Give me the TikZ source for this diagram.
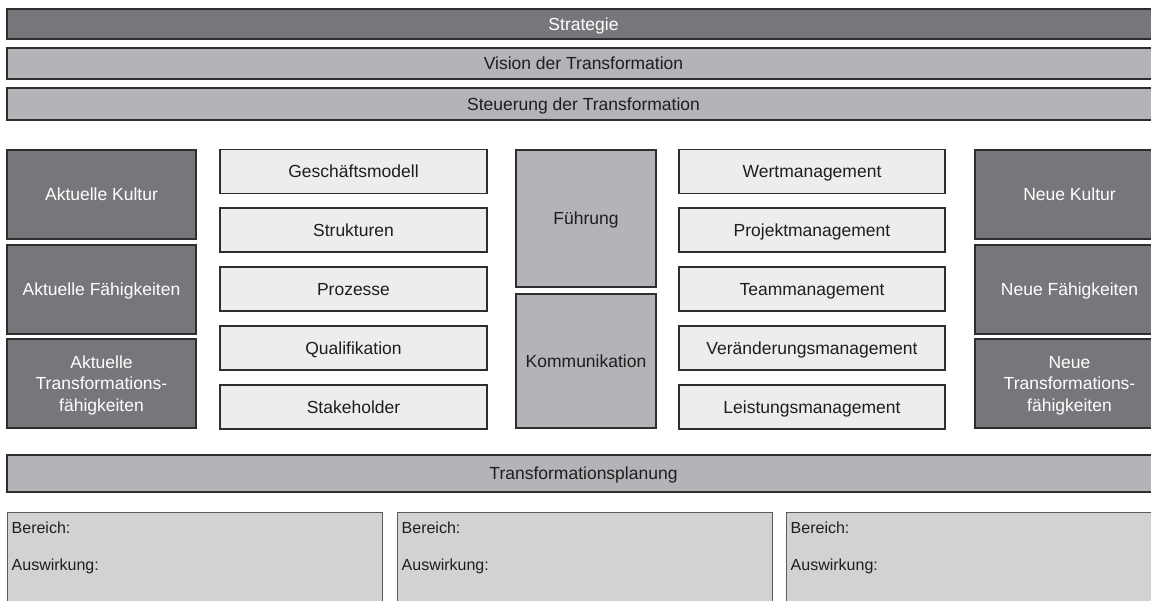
\documentclass[tikz,border=0pt]{standalone}
\usepackage{fontspec}
\setmainfont{Liberation Sans}
\begin{document}
\begin{tikzpicture}[x=1pt,y=-1pt,
  every node/.style={font=\fontsize{17.5}{21.5}\selectfont, align=center, inner sep=0pt},
  oneline/.style={text height=12.5pt, text depth=0pt},
  threeline/.style={text depth=0pt},
  box/.style={draw=edge, line width=1.6pt, rectangle},
  darkbox/.style={box, fill=darkfill, text=white},
  midbox/.style={box, fill=midfill, text=txt},
  lightbox/.style={box, fill=lightfill, text=txt, oneline},
  areabox/.style={draw=areaedge, line width=1pt, fill=areafill, rectangle, minimum width=375pt, minimum height=108pt},
  arealabel/.style={anchor=west, text=txt, font=\fontsize{16}{19}\selectfont},
  bar/.style={minimum width=1153pt, oneline},
  side/.style={minimum width=189pt, minimum height=89pt},
  item/.style={minimum width=267pt, minimum height=44pt}
]
\definecolor{edge}{HTML}{2E2E30}
\definecolor{areaedge}{HTML}{5A5A5C}
\definecolor{darkfill}{HTML}{76777A}
\definecolor{midfill}{HTML}{B3B4B7}
\definecolor{lightfill}{HTML}{EDEDEE}
\definecolor{areafill}{HTML}{D1D2D4}
\definecolor{txt}{HTML}{1E1E1E}
\clip (0,0) rectangle (1151,600);
\fill[white] (0,0) rectangle (1151,600);

% top bars
\node[darkbox, bar, minimum height=30pt] (strat) at (583.5,24) {Strategie};
\node[midbox, bar, minimum height=31pt] (vision) at (583.5,63.5) {Vision der Transformation};
\node[midbox, bar, minimum height=32pt] (steu) at (583.5,104) {Steuerung der Transformation};

% current state
\node[darkbox, side, oneline] (akult) at (101.5,194.5) {Aktuelle Kultur};
\node[darkbox, side, oneline] (afaeh) at (101.5,289.5) {Aktuelle Fähigkeiten};
\node[darkbox, side, threeline] (atrans) at (101.5,383.5) {Aktuelle\\Transformations-\\fähigkeiten};

% organisational elements
\node[lightbox, item] (gm) at (353.5,171.5) {Geschäftsmodell};
\node[lightbox, item] (st) at (353.5,230) {Strukturen};
\node[lightbox, item] (pr) at (353.5,289) {Prozesse};
\node[lightbox, item] (qu) at (353.5,348) {Qualifikation};
\node[lightbox, item] (sh) at (353.5,407) {Stakeholder};

% leadership and communication
\node[midbox, oneline, minimum width=140pt, minimum height=137pt] (fu) at (586,218.5) {Führung};
\node[midbox, oneline, minimum width=140pt, minimum height=134pt] (ko) at (586,361) {Kommunikation};

% management disciplines
\node[lightbox, item, minimum width=266pt] (wm) at (812,171.5) {Wertmanagement};
\node[lightbox, item, minimum width=266pt] (pm) at (812,230) {Projektmanagement};
\node[lightbox, item, minimum width=266pt] (tm) at (812,289) {Teammanagement};
\node[lightbox, item, minimum width=266pt] (vm) at (812,348) {Veränderungsmanagement};
\node[lightbox, item, minimum width=266pt] (lm) at (812,407) {Leistungsmanagement};

% target state
\node[darkbox, side, oneline] (nkult) at (1069.5,194.5) {Neue Kultur};
\node[darkbox, side, oneline] (nfaeh) at (1069.5,289.5) {Neue Fähigkeiten};
\node[darkbox, side, threeline] (ntrans) at (1069.5,383.5) {Neue\\Transformations-\\fähigkeiten};

% planning
\node[midbox, bar, minimum height=37pt] (plan) at (583.5,473.5) {Transformationsplanung};

% planning areas
\node[areabox] (b1) at (194.5,566) {};
\node[areabox] (b2) at (584.5,566) {};
\node[areabox, minimum width=374pt] (b3) at (973,566) {};
\foreach \b in {b1,b2,b3} {
  \node[arealabel] (\b r) at ([xshift=5pt,yshift=-16pt]\b.north west) {Bereich:};
  \node[arealabel] (\b a) at ([xshift=5pt,yshift=-55pt]\b.north west) {Auswirkung:};
}
\end{tikzpicture}
\end{document}
